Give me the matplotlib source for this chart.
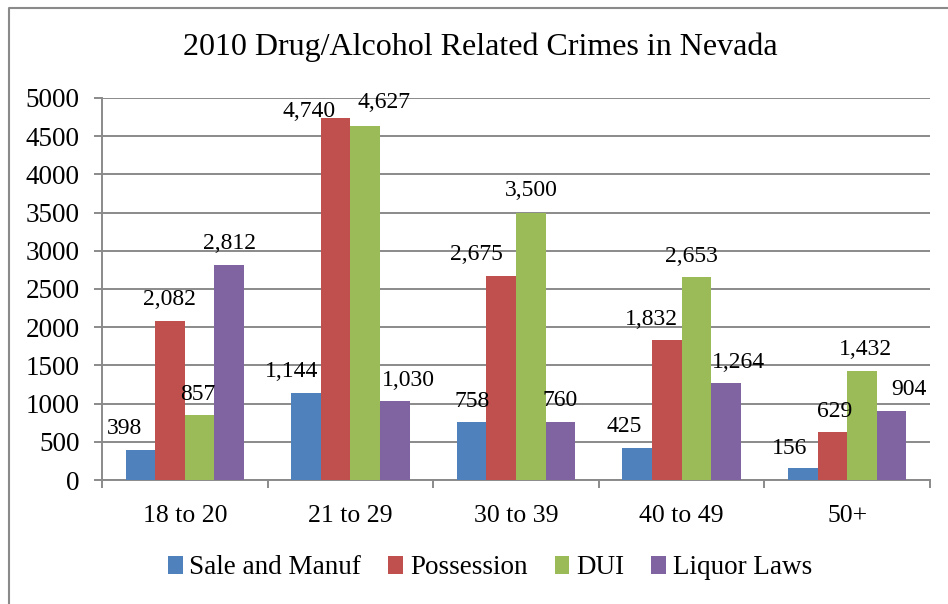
"""Grouped bar chart of 2010 drug/alcohol related crimes in Nevada by age group."""

import matplotlib

matplotlib.use("Agg")
import matplotlib.pyplot as plt
import numpy as np
from matplotlib.lines import Line2D

plt.rcParams["font.family"] = ["Liberation Serif", "DejaVu Serif"]

age_groups = ["18 to 20", "21 to 29", "30 to 39", "40 to 49", "50+"]
series_names = ["Sale and Manuf", "Possession", "DUI", "Liquor Laws"]
sale_manuf = [398, 1144, 758, 425, 156]
possession = [2082, 4740, 2675, 1832, 629]
dui = [857, 4627, 3500, 2653, 1432]
liquor_laws = [2812, 1030, 760, 1264, 904]
y_ticks = list(range(0, 5001, 500))

colors = ["#4F81BD", "#C0504D", "#9BBB59", "#8064A2"]
# label nudges (pixels) so neighbouring value labels don't collide
label_dx = [
    [-16, -14, 1, -13, -13],
    [-1, -27, -25, -15, 2],
    [-2, 19, 0, -5, 3],
    [0, 14, 0, 12, 17],
]
label_dy = [
    [21, 21, 21, 21, 20],
    [21, 6, 21, 21, 20],
    [20, 24, 22, 21, 21],
    [22, 21, 21, 21, 21],
]

grid_color = "#8a8a8a"

fig = plt.figure(figsize=(9.48, 6.04), dpi=100)
ax = fig.add_axes([102 / 948, 1 - 480 / 604, 828 / 948, 382 / 604])

x = np.arange(len(age_groups))
bar_w = 0.179
values = [sale_manuf, possession, dui, liquor_laws]
for i, (name, vals, col) in enumerate(zip(series_names, values, colors)):
    offs = (i - 1.5) * bar_w
    bars = ax.bar(x + offs, vals, width=bar_w, color=col, label=name,
                  linewidth=0, zorder=3)
    for j, (b, v) in enumerate(zip(bars, vals)):
        ax.annotate(f"{v:,}", (b.get_x() + b.get_width() / 2, v),
                    xytext=(label_dx[i][j] * 0.72, label_dy[i][j] * 0.72),
                    textcoords="offset points", ha="center", va="center",
                    fontsize=17, color="black", zorder=4)

ax.set_xlim(-0.5, len(age_groups) - 0.5)
ax.set_ylim(0, 5000)
ax.set_yticks(y_ticks)
ax.set_yticklabels([str(t) for t in y_ticks])
ax.yaxis.grid(True, color=grid_color, linewidth=1.4, zorder=0)
ax.set_axisbelow(True)

ax.set_xticks(x)
ax.set_xticklabels(age_groups)
ax.set_xticks(np.arange(len(age_groups) + 1) - 0.5, minor=True)
ax.tick_params(axis="x", which="major", length=0, pad=18, labelsize=18.5)
ax.tick_params(axis="x", which="minor", length=6, width=1.4,
               color=grid_color, direction="out")
ax.tick_params(axis="y", length=6, width=1.4, color=grid_color,
               direction="out", pad=10, labelsize=19.5)

for side in ["top", "right"]:
    ax.spines[side].set_visible(False)
for side in ["left", "bottom"]:
    ax.spines[side].set_color(grid_color)
    ax.spines[side].set_linewidth(1.4)

fig.text(480 / 948, 1 - 47 / 604, "2010 Drug/Alcohol Related Crimes in Nevada",
         ha="center", va="center", fontsize=23)

fig.legend(loc="center", bbox_to_anchor=(490 / 948, 1 - 568 / 604),
           ncol=4, frameon=False, fontsize=19.5, handlelength=0.55,
           handleheight=0.6, handletextpad=0.25, columnspacing=1.0)

# chart frame (top and left edges)
fig.add_artist(Line2D([9 / 948, 9 / 948, 1.0], [0.0, 1 - 8 / 604, 1 - 8 / 604],
                      transform=fig.transFigure, color=grid_color, linewidth=1.5))

fig.savefig("out.png", dpi=100)
